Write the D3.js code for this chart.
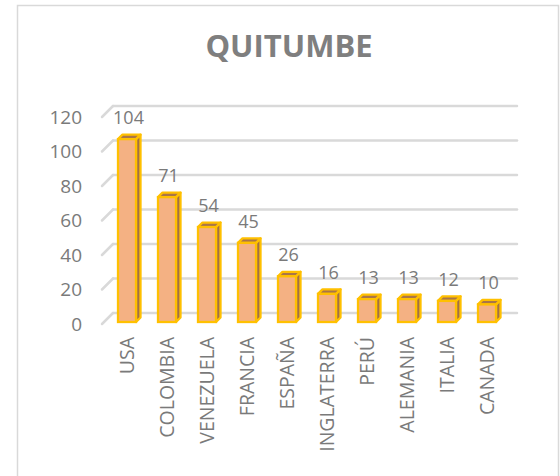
<!DOCTYPE html>
<html>
<head>
<meta charset="utf-8">
<script src="https://cdn.jsdelivr.net/npm/d3@7"></script>
<style>
  html, body { margin: 0; padding: 0; background: #fff; }
  svg { display: block; }
</style>
</head>
<body>
<svg id="chart" width="560" height="476"></svg>
<script>
const title = "QUITUMBE";
const categories = ["USA", "COLOMBIA", "VENEZUELA", "FRANCIA", "ESPAÑA", "INGLATERRA", "PERÚ", "ALEMANIA", "ITALIA", "CANADA"];
const values = [104, 71, 54, 45, 26, 16, 13, 13, 12, 10];
const yTicks = [0, 20, 40, 60, 80, 100, 120];

const svg = d3.select("#chart");
const font = "'Open Sans', sans-serif";
const textColor = "#7A7A7A";
const gridColor = "#D9D9D9";

// frame
svg.append("rect")
  .attr("x", 17.5).attr("y", 5.5)
  .attr("width", 541).attr("height", 500)
  .attr("fill", "#fff")
  .attr("stroke", gridColor).attr("stroke-width", 1.5);

// title
svg.append("text")
  .attr("x", 289).attr("y", 57)
  .attr("text-anchor", "middle")
  .attr("font-family", font).attr("font-weight", 700)
  .attr("font-size", 31).attr("fill", "#7F7F7F")
  .text(title);

// scales
const depth = 11;        // wall depth offset
const barDepth = 4.5;    // bar depth offset
const x = d3.scaleBand().domain(categories).range([107, 507]).paddingInner(0.55).paddingOuter(0.275);
const yFront = d3.scaleLinear().domain([0, 120]).range([324, 117]);
const yWall = d3.scaleLinear().domain([0, 120]).range([313, 106]);
const yBar = d3.scaleLinear().domain([0, 120]).range([322, 111]);

const wallLeft = 113, wallRight = 517;

// gridlines on back wall
const grid = svg.append("g");
yTicks.forEach(t => {
  grid.append("line")
    .attr("x1", wallLeft).attr("x2", wallRight)
    .attr("y1", yWall(t)).attr("y2", yWall(t))
    .attr("stroke", gridColor).attr("stroke-width", 2.5).attr("stroke-linecap", "round");
  grid.append("line")
    .attr("x1", wallLeft - depth).attr("x2", wallLeft)
    .attr("y1", yFront(t)).attr("y2", yWall(t))
    .attr("stroke", gridColor).attr("stroke-width", 2.5).attr("stroke-linecap", "round");
});

// y axis labels
svg.append("g").selectAll("text").data(yTicks).join("text")
  .attr("x", 82).attr("y", d => yFront(d))
  .attr("dy", "0.36em")
  .attr("text-anchor", "end")
  .attr("font-family", font).attr("font-size", 19).attr("fill", textColor)
  .text(d => d);

// bars
const data = categories.map((c, i) => ({ cat: c, v: values[i] }));
const bw = x.bandwidth();
const bars = svg.append("g").selectAll("g").data(data).join("g");
const sw = 2.3;

bars.append("path") // side
  .attr("d", d => {
    const x0 = x(d.cat), t = yBar(d.v), b = yBar(0);
    return `M${x0 + bw},${t} L${x0 + bw + barDepth},${t - barDepth} L${x0 + bw + barDepth},${b - barDepth} L${x0 + bw},${b} Z`;
  })
  .attr("fill", "#A26F45").attr("stroke", "#FFC000").attr("stroke-width", sw).attr("stroke-linejoin", "round");

bars.append("path") // top
  .attr("d", d => {
    const x0 = x(d.cat), t = yBar(d.v);
    return `M${x0},${t} L${x0 + barDepth},${t - barDepth} L${x0 + bw + barDepth},${t - barDepth} L${x0 + bw},${t} Z`;
  })
  .attr("fill", "#A97549").attr("stroke", "#FFC000").attr("stroke-width", sw).attr("stroke-linejoin", "round");

bars.append("rect") // front
  .attr("x", d => x(d.cat))
  .attr("y", d => yBar(d.v))
  .attr("width", bw)
  .attr("height", d => yBar(0) - yBar(d.v))
  .attr("fill", "#F4B183").attr("stroke", "#FFC000").attr("stroke-width", sw);

// value labels
svg.append("g").selectAll("text").data(data).join("text")
  .attr("x", d => x(d.cat) + bw / 2 + 1.5)
  .attr("y", d => yBar(d.v) - 15)
  .attr("text-anchor", "middle")
  .attr("font-family", font).attr("font-size", 18).attr("fill", textColor)
  .text(d => d.v);

// category labels
svg.append("g").selectAll("text").data(categories).join("text")
  .attr("transform", d => `translate(${x(d) + bw / 2},337) rotate(-90)`)
  .attr("dy", "0.36em")
  .attr("text-anchor", "end")
  .attr("font-family", font).attr("font-size", 19.5).attr("fill", textColor)
  .text(d => d);
</script>
</body>
</html>
